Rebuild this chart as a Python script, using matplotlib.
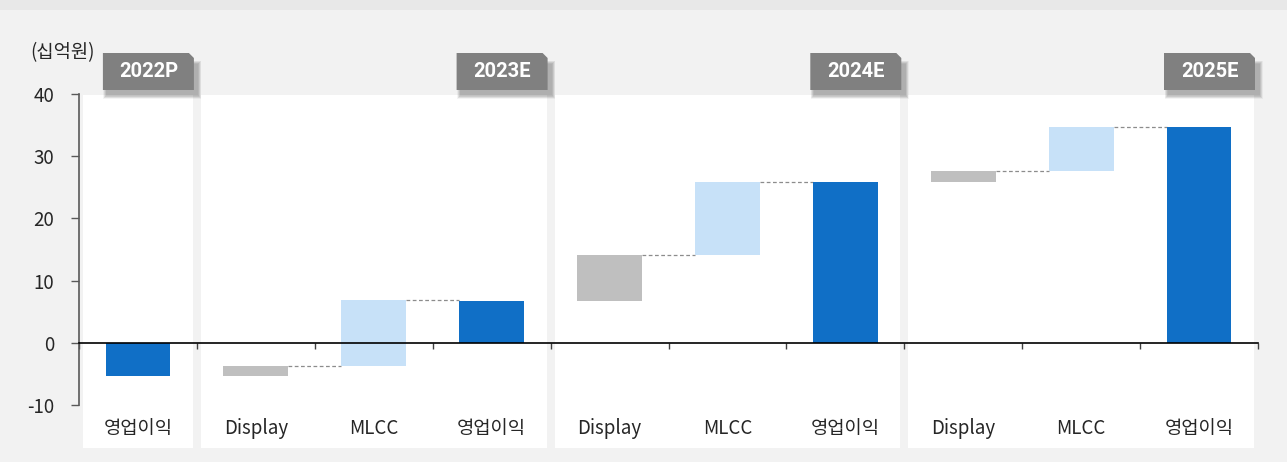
import matplotlib
matplotlib.use("Agg")
import matplotlib.pyplot as plt
from matplotlib.patches import Rectangle, Polygon
from matplotlib.transforms import blended_transform_factory

plt.rcParams['font.family'] = ['Noto Sans CJK KR', 'DejaVu Sans']
plt.rcParams['axes.unicode_minus'] = False

# data (십억원)
years = ['2022P', '2023E', '2024E', '2025E']
op_profit = [-5.3, 6.8, 25.8, 34.7]      # 영업이익
display_delta = [1.5, 7.3, 1.9]          # Display 기여 (2023E~2025E)
mlcc_delta = [10.7, 11.7, 7.0]           # MLCC 기여 (2023E~2025E)
cat_labels = ['영업이익'] + ['Display', 'MLCC', '영업이익'] * 3
group_sizes = [1, 3, 3, 3]

c_op = '#106fc6'
c_mlcc = '#c7e1f8'
c_disp = '#bfbfbf'
c_box = '#808080'
bg = '#f2f2f2'

W, H = 1287, 462
fig = plt.figure(figsize=(W / 100, H / 100), dpi=100, facecolor=bg)
ax = fig.add_axes([79 / W, 1 - 405 / H, (1258 - 79) / W, (405 - 94) / H])
ax.set_facecolor('none')

# top strip
fig.patches.append(Rectangle((0, 1 - 10 / H), 1, 10 / H, transform=fig.transFigure,
                             facecolor='#e8e8e8', edgecolor='none', zorder=0))

bw = 0.55
# 2022P
ax.bar(0, op_profit[0], width=bw, color=c_op, zorder=3)
for i in range(3):
    x0 = 1 + i * 3
    start = op_profit[i]
    d_top = start + display_delta[i]
    m_top = d_top + mlcc_delta[i]
    ax.bar(x0, display_delta[i], bottom=start, width=bw, color=c_disp, zorder=3)
    ax.bar(x0 + 1, mlcc_delta[i], bottom=d_top, width=bw, color=c_mlcc, zorder=3)
    ax.bar(x0 + 2, op_profit[i + 1], width=bw, color=c_op, zorder=3)
    ax.plot([x0 + bw / 2, x0 + 1 - bw / 2], [d_top, d_top], ls=(0, (3, 2)),
            color='#8c8c8c', lw=0.9, zorder=2)
    ax.plot([x0 + 1 + bw / 2, x0 + 2 - bw / 2], [m_top, m_top], ls=(0, (3, 2)),
            color='#8c8c8c', lw=0.9, zorder=2)

n = len(cat_labels)
ax.set_xlim(-0.5, n - 0.5)
ax.set_ylim(-10, 40)
ax.set_yticks(range(-10, 41, 10))
ax.set_xticks([i + 0.5 for i in range(-1, n)])
ax.set_xticklabels([])
ax.tick_params(axis='x', direction='out', length=4, width=1, color='#404040')
ax.tick_params(axis='y', direction='out', length=6, width=1, color='#595959',
               labelsize=13.5, labelcolor='#262626', pad=12)
for s in ['top', 'right']:
    ax.spines[s].set_visible(False)
ax.spines['bottom'].set_position(('data', 0))
ax.spines['bottom'].set_color('black')
ax.spines['bottom'].set_linewidth(1.2)
ax.spines['bottom'].set_zorder(4)
ax.spines['left'].set_color('#595959')
ax.spines['left'].set_linewidth(1.2)

tr_ax = blended_transform_factory(ax.transData, ax.transAxes)
for i, lab in enumerate(cat_labels):
    ax.text(i, -0.075, lab, transform=tr_ax,
            ha='center', va='center', fontsize=13.5, color='#262626')

# white panels + year boxes
tr = blended_transform_factory(ax.transData, fig.transFigure)
px = 1 / ((1258 - 79) / n)  # data units per pixel
start = 0
for g, yr in zip(group_sizes, years):
    left = start - 0.5 + 4 * px
    right = start + g - 0.5 - 4 * px
    ax.add_patch(Rectangle((left, 1 - 448 / H), right - left, (448 - 95) / H,
                           transform=tr, facecolor='white', edgecolor='none',
                           zorder=0, clip_on=False))
    bx1 = right + 1 * px
    bx0 = bx1 - 91 * px
    by0, by1 = 1 - 90 / H, 1 - 53 / H
    # soft drop shadow
    for k in range(7):
        grow = 7 - k
        ax.add_patch(Rectangle((bx0 + (4 - grow / 2) * px, by0 - (5 + grow / 2) / H),
                               bx1 - bx0 + grow * px, (by1 - by0) - 6 / H + grow / H,
                               transform=tr, facecolor='black', edgecolor='none',
                               alpha=0.045, zorder=5, clip_on=False))
    cut = 5
    ax.add_patch(Polygon([(bx0, by0), (bx1, by0), (bx1, by1 - cut / H),
                          (bx1 - cut * px, by1), (bx0, by1)],
                         closed=True, transform=tr, facecolor=c_box,
                         edgecolor='none', zorder=6, clip_on=False))
    ax.text((bx0 + bx1) / 2, (by0 + by1) / 2, yr, transform=tr, ha='center',
            va='center', color='white', fontsize=14.5, fontweight='bold',
            family=['Roboto', 'DejaVu Sans'], zorder=7)
    start += g

fig.text(30 / W, 1 - 53 / H, '(십억원)', ha='left', va='center', fontsize=13.5,
         color='#262626')

fig.savefig('out.png', dpi=100, facecolor=bg)
